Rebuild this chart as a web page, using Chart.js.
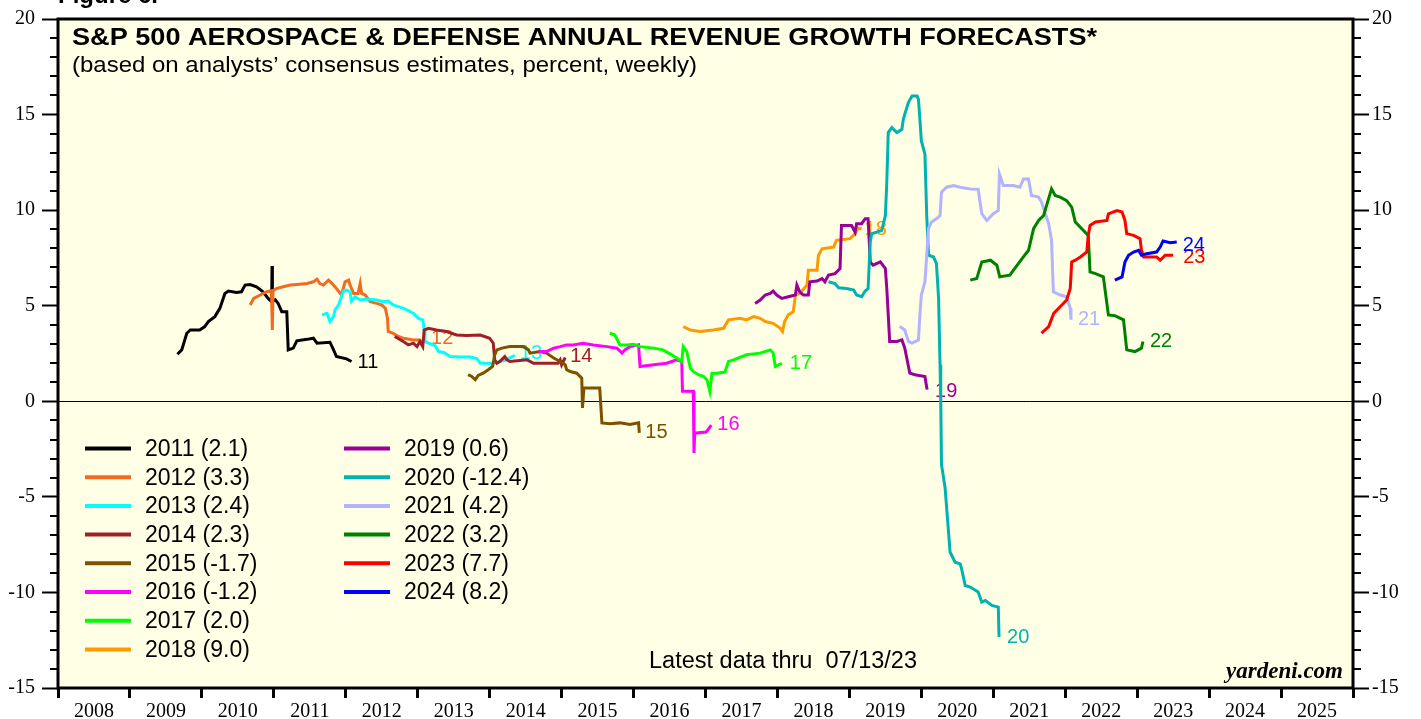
<!DOCTYPE html>
<html>
<head>
<meta charset="utf-8">
<script src="https://cdn.jsdelivr.net/npm/chart.js@4.4.0/dist/chart.umd.min.js"></script>
<style>
  html, body { margin: 0; padding: 0; background: #fff; }
</style>
</head>
<body>
<canvas id="chart" width="1421" height="719"></canvas>
<script>
// x axis year labels (each one centred inside its year)
var yearLabels = ['2008', '2009', '2010', '2011', '2012', '2013', '2014', '2015', '2016',
                  '2017', '2018', '2019', '2020', '2021', '2022', '2023', '2024', '2025'];

var seriesNames = ['2011', '2012', '2013', '2014', '2015', '2016', '2017',
                   '2018', '2019', '2020', '2021', '2022', '2023', '2024'];
var finalValues = [2.1, 3.3, 2.4, 2.3, -1.7, -1.2, 2.0, 9.0, 0.6, -12.4, 4.2, 3.2, 7.7, 8.2];
var endLabels = ['11', '12', '13', '14', '15', '16', '17', '18', '19', '20', '21', '22', '23', '24'];

// weekly forecasts, [decimal year, percent]
var s2011 = [[2009.66,2.46],[2009.72,2.69],[2009.79,3.56],[2009.84,3.73],[2009.97,3.73],[2010.04,3.91],[2010.09,4.17],
  [2010.18,4.43],[2010.25,4.86],[2010.32,5.64],[2010.37,5.77],[2010.48,5.69],[2010.55,5.73],[2010.6,6.08],[2010.67,6.11],
  [2010.76,5.99],[2010.85,5.73],[2010.92,5.38],[2010.97,5.21],[2010.975,7.08],[2010.98,5.21],[2011.02,5.31],[2011.06,5.12],
  [2011.11,4.69],[2011.18,4.69],[2011.2,2.69],[2011.27,2.78],[2011.32,3.16],[2011.46,3.24],[2011.55,3.30],[2011.6,3.04],
  [2011.78,3.09],[2011.83,2.69],[2011.87,2.34],[2012.01,2.22],[2012.08,2.08]];
var s2012 = [[2010.67,5.04],[2010.72,5.38],[2010.81,5.56],[2010.9,5.73],[2010.967,5.78],[2010.979,3.73],[2010.989,5.78],
  [2011.04,5.90],[2011.13,5.99],[2011.23,6.08],[2011.32,6.11],[2011.46,6.16],[2011.55,6.25],[2011.6,6.39],[2011.64,6.16],
  [2011.69,6.08],[2011.76,6.34],[2011.81,6.16],[2011.87,5.90],[2011.94,5.56],[2011.99,6.25],[2012.04,6.34],[2012.06,6.08],
  [2012.11,5.64],[2012.17,5.64],[2012.2,6.16],[2012.22,5.64],[2012.27,5.56],[2012.34,5.21],[2012.43,5.12],[2012.5,5.04],
  [2012.55,4.86],[2012.58,4.34],[2012.59,3.65],[2012.66,3.56],[2012.73,3.39],[2012.8,3.30],[2012.94,3.21],[2013.03,3.21],
  [2013.06,3.05]];
var s2013 = [[2011.67,4.52],[2011.74,4.60],[2011.78,4.17],[2011.83,4.43],[2011.85,4.78],[2011.9,5.04],[2011.94,5.47],
  [2011.97,5.77],[2012.01,5.82],[2012.06,5.73],[2012.08,5.24],[2012.13,5.47],[2012.2,5.30],[2012.29,5.35],[2012.43,5.30],
  [2012.52,5.21],[2012.59,5.24],[2012.66,5.04],[2012.73,4.95],[2012.8,4.86],[2012.87,4.74],[2012.94,4.60],[2013.01,4.34],
  [2013.07,4.26],[2013.09,3.75],[2013.1,3.13],[2013.15,3.04],[2013.24,2.92],[2013.29,2.60],[2013.36,2.55],[2013.45,2.34],
  [2013.59,2.32],[2013.73,2.32],[2013.82,2.24],[2013.87,1.99],[2014.05,1.99],[2014.21,2.14],[2014.35,2.40]];
var s2014 = [[2012.68,3.39],[2012.8,3.13],[2012.87,2.95],[2012.94,3.04],[2012.99,2.86],[2013.03,3.13],[2013.07,2.86],
  [2013.09,3.73],[2013.15,3.82],[2013.26,3.73],[2013.4,3.65],[2013.54,3.47],[2013.68,3.44],[2013.87,3.47],[2014.0,3.30],
  [2014.05,3.04],[2014.07,2.17],[2014.1,1.99],[2014.14,2.08],[2014.21,2.34],[2014.24,2.17],[2014.28,2.08],[2014.52,2.17],
  [2014.61,1.99],[2014.79,1.99],[2014.95,1.99],[2014.98,2.17],[2015.0,1.91],[2015.05,2.29]];
var s2015 = [[2013.7,1.39],[2013.75,1.30],[2013.8,1.13],[2013.84,1.35],[2013.91,1.47],[2013.98,1.65],[2014.04,1.82],
  [2014.07,2.43],[2014.1,2.69],[2014.17,2.78],[2014.28,2.86],[2014.47,2.86],[2014.54,2.69],[2014.56,2.52],[2014.7,2.60],
  [2014.79,2.52],[2014.89,2.26],[2014.98,2.08],[2015.05,1.91],[2015.07,1.65],[2015.12,1.56],[2015.21,1.47],[2015.28,1.21],
  [2015.29,-0.35],[2015.31,0.69],[2015.53,0.69],[2015.56,-1.13],[2015.67,-1.18],[2015.81,-1.13],[2015.95,-1.21],
  [2016.07,-1.13],[2016.08,-1.65]];
var s2016 = [[2014.68,2.60],[2014.79,2.60],[2014.89,2.78],[2014.98,2.86],[2015.07,2.95],[2015.16,2.95],[2015.3,3.04],
  [2015.44,2.95],[2015.63,2.86],[2015.77,2.78],[2015.84,2.52],[2015.88,2.69],[2015.95,2.86],[2016.07,2.95],[2016.09,1.82],
  [2016.28,1.91],[2016.46,1.99],[2016.6,2.17],[2016.67,2.08],[2016.68,0.52],[2016.83,0.52],[2016.84,-2.71],[2016.85,-1.67],
  [2017.01,-1.61],[2017.08,-1.25]];
var s2017 = [[2015.67,3.56],[2015.74,3.47],[2015.81,2.95],[2015.91,2.95],[2016.0,2.98],[2016.09,2.86],[2016.28,2.78],
  [2016.41,2.69],[2016.53,2.43],[2016.6,2.26],[2016.67,2.08],[2016.69,2.86],[2016.74,2.60],[2016.79,1.73],[2016.83,1.56],
  [2016.9,1.39],[2016.97,1.30],[2017.02,1.13],[2017.06,0.52],[2017.09,1.47],[2017.16,1.47],[2017.27,1.53],[2017.32,2.08],
  [2017.39,2.17],[2017.57,2.43],[2017.76,2.52],[2017.9,2.69],[2017.94,2.52],[2017.97,1.82],[2018.06,1.99]];
var s2018 = [[2016.69,3.91],[2016.79,3.73],[2016.92,3.65],[2017.11,3.73],[2017.25,3.82],[2017.32,4.26],[2017.48,4.34],
  [2017.57,4.26],[2017.67,4.43],[2017.76,4.34],[2017.83,4.17],[2017.94,4.08],[2018.04,3.82],[2018.07,3.65],[2018.1,4.17],
  [2018.15,4.52],[2018.22,4.69],[2018.25,5.56],[2018.31,5.64],[2018.41,6.08],[2018.43,6.86],[2018.55,6.86],[2018.57,7.64],
  [2018.62,7.98],[2018.78,8.07],[2018.82,8.42],[2019.01,8.51],[2019.08,8.77],[2019.12,9.06],[2019.17,9.01]];
var s2019 = [[2017.69,5.12],[2017.76,5.30],[2017.83,5.56],[2017.9,5.64],[2017.94,5.77],[2017.99,5.56],[2018.06,5.38],
  [2018.15,5.47],[2018.25,5.56],[2018.27,6.08],[2018.31,5.73],[2018.36,5.56],[2018.43,5.56],[2018.45,6.25],[2018.55,6.29],
  [2018.62,6.42],[2018.66,6.25],[2018.71,6.60],[2018.8,6.68],[2018.87,6.94],[2018.89,9.20],[2019.03,9.20],[2019.08,8.85],
  [2019.1,9.29],[2019.17,9.29],[2019.22,9.55],[2019.26,9.55],[2019.29,7.29],[2019.33,7.12],[2019.43,7.29],[2019.5,6.94],
  [2019.52,5.90],[2019.54,4.52],[2019.56,3.13],[2019.66,3.13],[2019.73,3.21],[2019.77,2.78],[2019.84,1.47],[2019.91,1.39],
  [2020.05,1.30],[2020.08,0.61]];
var s2020 = [[2018.71,6.25],[2018.8,6.16],[2018.85,5.94],[2018.96,5.90],[2019.06,5.82],[2019.1,5.56],[2019.17,5.47],
  [2019.22,5.77],[2019.26,5.90],[2019.29,8.33],[2019.31,8.77],[2019.38,8.85],[2019.45,8.94],[2019.5,9.72],[2019.52,11.46],
  [2019.54,14.06],[2019.59,14.32],[2019.66,14.06],[2019.73,14.23],[2019.75,14.76],[2019.82,15.63],[2019.87,15.97],
  [2019.94,15.97],[2019.96,15.80],[2019.98,14.76],[2020.0,13.63],[2020.05,12.93],[2020.075,9.72],[2020.1,7.64],
  [2020.17,7.55],[2020.21,7.20],[2020.24,5.38],[2020.26,1.91],[2020.27,0.0],[2020.28,-3.30],[2020.33,-4.52],[2020.4,-7.90],
  [2020.47,-8.42],[2020.54,-8.51],[2020.56,-8.77],[2020.61,-9.64],[2020.68,-9.72],[2020.79,-9.98],[2020.84,-10.51],
  [2020.89,-10.42],[2020.98,-10.68],[2021.07,-10.77],[2021.08,-12.33]];
var s2021 = [[2019.7,3.91],[2019.77,3.73],[2019.82,3.13],[2019.87,3.04],[2019.96,3.21],[2019.98,4.52],[2020.0,5.56],
  [2020.05,6.25],[2020.1,9.03],[2020.14,9.38],[2020.21,9.55],[2020.26,9.72],[2020.28,10.94],[2020.35,11.20],[2020.45,11.29],
  [2020.54,11.20],[2020.68,11.11],[2020.79,11.09],[2020.84,9.81],[2020.91,9.46],[2021.0,9.81],[2021.07,9.98],[2021.085,11.89],
  [2021.14,11.29],[2021.28,11.29],[2021.37,11.20],[2021.42,11.63],[2021.49,11.63],[2021.53,10.77],[2021.63,10.68],
  [2021.67,10.42],[2021.77,9.29],[2021.81,8.42],[2021.835,5.73],[2021.93,5.56],[2022.02,5.47],[2022.07,4.86],[2022.08,4.27]];
var s2022 = [[2020.68,6.34],[2020.77,6.42],[2020.84,7.29],[2020.96,7.38],[2021.05,7.12],[2021.09,6.51],[2021.23,6.60],
  [2021.4,7.46],[2021.49,7.90],[2021.56,9.03],[2021.63,9.46],[2021.7,9.72],[2021.74,10.24],[2021.81,11.11],[2021.86,10.77],
  [2021.93,10.68],[2022.02,10.50],[2022.09,10.16],[2022.14,9.38],[2022.23,9.03],[2022.32,8.68],[2022.345,6.77],
  [2022.42,6.68],[2022.53,6.51],[2022.6,4.52],[2022.69,4.48],[2022.81,4.26],[2022.855,2.69],[2022.97,2.60],[2023.06,2.78],
  [2023.08,3.13]];
var s2023 = [[2021.67,3.56],[2021.77,3.91],[2021.84,4.60],[2021.93,4.95],[2022.02,5.30],[2022.07,5.90],[2022.09,7.29],
  [2022.14,7.38],[2022.21,7.55],[2022.3,7.81],[2022.32,8.68],[2022.345,9.20],[2022.42,9.38],[2022.58,9.46],[2022.6,9.81],
  [2022.72,9.98],[2022.79,9.90],[2022.83,9.46],[2022.855,8.77],[2022.95,8.68],[2023.04,8.51],[2023.06,7.90],[2023.09,7.55],
  [2023.27,7.55],[2023.32,7.38],[2023.39,7.64],[2023.5,7.64]];
var s2024 = [[2022.69,6.34],[2022.79,6.51],[2022.83,7.29],[2022.88,7.64],[2022.95,7.81],[2023.02,7.90],[2023.06,7.64],
  [2023.13,7.72],[2023.27,7.81],[2023.32,8.07],[2023.36,8.39],[2023.46,8.30],[2023.55,8.33]];

var allSeries = [s2011, s2012, s2013, s2014, s2015, s2016, s2017, s2018, s2019, s2020, s2021, s2022, s2023, s2024];

var colors = ['#000000', '#F26B21', '#00FFFF', '#A01E28', '#7F5000', '#FF00FF', '#00FF00',
              '#FF9900', '#990099', '#00B2B2', '#B3B3FF', '#008000', '#FF0000', '#0000FF'];
// where each end label sits relative to the last point
var labelOffsets = [[6,1],[9,-5],[5,-2],[5,-1],[6,0],[6,-1],[8,0],[3,0],[8,2],[8,1],[7,0],[7,0],[10,2],[6,3]];

var SANS = '"Liberation Sans", Arial, sans-serif';
var SERIF = '"Liberation Serif", "Times New Roman", serif';

var datasets = allSeries.map(function(s, i) {
    return {
        label: seriesNames[i],
        data: s.map(function(p) { return {x: p[0], y: p[1]}; }),
        borderColor: colors[i],
        backgroundColor: colors[i],
        borderWidth: 3,
        pointRadius: 0,
        fill: false,
        tension: 0,
        order: seriesNames.length - i,
        yAxisID: 'y'
    };
});

// text squeezed/stretched horizontally to a given width
function fitText(ctx, text, x, y, width) {
    var w = ctx.measureText(text).width;
    ctx.save();
    ctx.translate(x, y);
    ctx.scale(width / w, 1);
    ctx.fillText(text, 0, 0);
    ctx.restore();
}

var chartDecor = {
    id: 'chartDecor',
    beforeDraw: function(chart) {
        var ctx = chart.ctx, a = chart.chartArea;
        ctx.save();
        ctx.fillStyle = '#FFFFE5';
        ctx.fillRect(a.left, a.top, a.right - a.left, a.bottom - a.top);
        // caption above the frame, mostly cut off
        ctx.fillStyle = '#000';
        ctx.font = 'bold 24px ' + SANS;
        ctx.textBaseline = 'alphabetic';
        ctx.fillText('Figure 6.', 58, 3);
        ctx.restore();
    },
    beforeDatasetsDraw: function(chart) {
        var ctx = chart.ctx, a = chart.chartArea, y = chart.scales.y, x = chart.scales.x;
        ctx.save();
        // zero line
        ctx.strokeStyle = '#000';
        ctx.lineWidth = 1;
        var y0 = Math.round(y.getPixelForValue(0)) + 0.5;
        ctx.beginPath();
        ctx.moveTo(a.left, y0);
        ctx.lineTo(a.right, y0);
        ctx.stroke();
        // series labels at the end of each line
        ctx.font = '20px ' + SANS;
        ctx.textBaseline = 'middle';
        ctx.textAlign = 'left';
        allSeries.forEach(function(s, i) {
            var last = s[s.length - 1];
            ctx.fillStyle = colors[i];
            ctx.fillText(endLabels[i], x.getPixelForValue(last[0]) + labelOffsets[i][0],
                         y.getPixelForValue(last[1]) + labelOffsets[i][1]);
        });
        ctx.restore();
    },
    afterDraw: function(chart) {
        var ctx = chart.ctx, a = chart.chartArea, y = chart.scales.y;
        ctx.save();
        // minor ticks on both sides
        ctx.strokeStyle = '#000';
        ctx.lineWidth = 2;
        for (var v = -15; v <= 20; v++) {
            if (v % 5 === 0) continue;
            var py = Math.round(y.getPixelForValue(v));
            ctx.beginPath();
            ctx.moveTo(a.left - 8, py);
            ctx.lineTo(a.left, py);
            ctx.moveTo(a.right, py);
            ctx.lineTo(a.right + 8, py);
            ctx.stroke();
        }
        // frame
        ctx.lineWidth = 3;
        ctx.strokeRect(a.left, a.top, a.right - a.left, a.bottom - a.top);

        // titles
        ctx.fillStyle = '#000';
        ctx.textAlign = 'left';
        ctx.textBaseline = 'alphabetic';
        ctx.font = 'bold 24px ' + SANS;
        fitText(ctx, 'S&P 500 AEROSPACE & DEFENSE ANNUAL REVENUE GROWTH FORECASTS*', 72, 45, 1025);
        ctx.font = '22px ' + SANS;
        fitText(ctx, '(based on analysts\u2019 consensus estimates, percent, weekly)', 72, 72, 625);

        // legend, two columns
        ctx.font = '23px ' + SANS;
        ctx.textBaseline = 'middle';
        chart.data.datasets.forEach(function(ds, i) {
            var col = i < 8 ? 0 : 1;
            var row = i < 8 ? i : i - 8;
            var lx = col === 0 ? 85 : 344;
            var ly = 448.5 + row * 28.7;
            ctx.strokeStyle = ds.borderColor;
            ctx.lineWidth = 4;
            ctx.beginPath();
            ctx.moveTo(lx, ly);
            ctx.lineTo(lx + 46, ly);
            ctx.stroke();
            ctx.fillStyle = '#000';
            ctx.fillText(ds.label + ' (' + finalValues[i].toFixed(1) + ')', lx + 60, ly + 1);
        });

        ctx.textBaseline = 'alphabetic';
        ctx.font = '23px ' + SANS;
        fitText(ctx, 'Latest data thru  07/13/23', 649, 668, 268);
        ctx.font = 'italic bold 23px ' + SERIF;
        ctx.textAlign = 'right';
        ctx.fillText('yardeni.com', 1343, 678);
        ctx.restore();
    }
};

var tickFont = {family: SERIF, size: 20};

var chart = new Chart(document.getElementById('chart'), {
    type: 'line',
    data: {datasets: datasets},
    options: {
        responsive: false,
        animation: false,
        layout: {padding: {top: 16, left: 0, right: 0, bottom: 0}},
        plugins: {legend: {display: false}, tooltip: {enabled: false}, title: {display: false}},
        scales: {
            x: {
                type: 'linear',
                position: 'bottom',
                min: 2008,
                max: 2026,
                afterBuildTicks: function(scale) {
                    var t = [];
                    for (var v = 2008; v <= 2026; v += 0.5) t.push({value: v});
                    scale.ticks = t;
                },
                afterFit: function(scale) { scale.height = 31; },
                border: {display: false},
                grid: {
                    drawOnChartArea: false,
                    tickLength: 10,
                    tickWidth: 3,
                    tickColor: function(c) {
                        return c.tick && c.tick.value % 1 === 0 ? '#000' : 'rgba(0,0,0,0)';
                    }
                },
                ticks: {
                    autoSkip: false,
                    maxRotation: 0,
                    padding: 2,
                    color: '#000',
                    font: tickFont,
                    callback: function(v) {
                        return v % 1 === 0.5 ? yearLabels[Math.floor(v) - 2008] : '';
                    }
                }
            },
            y: {
                type: 'linear',
                position: 'left',
                min: -15,
                max: 20,
                afterFit: function(scale) { scale.width = 58; },
                border: {display: false},
                grid: {drawOnChartArea: false, tickLength: 16, tickWidth: 2, tickColor: '#000'},
                ticks: {stepSize: 5, padding: 7, color: '#000', font: tickFont}
            },
            y2: {
                type: 'linear',
                display: true,
                position: 'right',
                min: -15,
                max: 20,
                afterFit: function(scale) { scale.width = 68; },
                border: {display: false},
                grid: {drawOnChartArea: false, tickLength: 16, tickWidth: 2, tickColor: '#000'},
                ticks: {stepSize: 5, padding: 3, color: '#000', font: tickFont}
            }
        }
    },
    plugins: [chartDecor]
});
</script>
</body>
</html>
